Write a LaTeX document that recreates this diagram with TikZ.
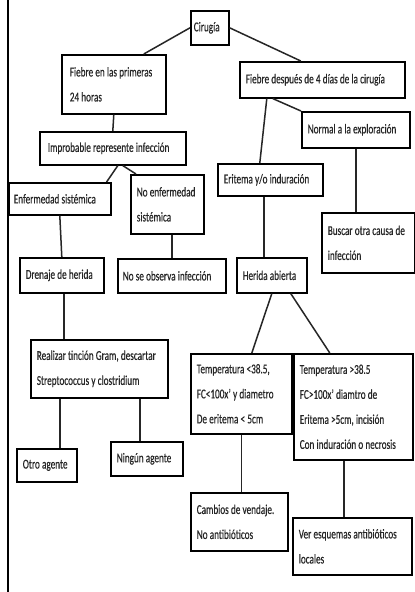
\documentclass[tikz,border=0pt]{standalone}
\usepackage{fontspec}
\setmainfont{Carlito}[FakeStretch=0.68, FakeBold=0.4]
\usetikzlibrary{shadows}
\newcommand{\tightsp}{\spaceskip=2.2pt plus 0.5pt minus 0.2pt\relax}
\begin{document}
\begin{tikzpicture}[x=1pt,y=-1pt,
  box/.style={draw=black, line width=1.6pt, fill=white, anchor=north west,
    inner sep=0pt, align=left, font=\fontsize{13.5}{25}\selectfont, text=black!85,
    execute at begin node=\tightsp,
    general shadow={fill=black, shadow xshift=0.8pt, shadow yshift=-1.2pt}},
  link/.style={line width=1.5pt, draw=black!85}]
\useasboundingbox (0,0) rectangle (415,592);
\fill[white] (0,0) rectangle (415,592);
\draw[line width=2.4pt] (7.8,0) -- (7.8,592);
% boxes
\node[box, minimum width=38pt, minimum height=34pt, text width=34pt] (cir) at (190,10) {\hspace*{1pt}Cirugía};
\node[box, minimum width=104pt, minimum height=59pt, text width=96pt] (f1) at (61,54) {\hspace*{4pt}Fiebre en las primeras\\\hspace*{4pt}24 horas};
\node[box, minimum width=146pt, minimum height=33pt, text width=140pt] (imp) at (39,131) {\hspace*{5pt}Improbable represente infección};
\node[box, minimum width=102pt, minimum height=32pt, text width=98pt] (enf) at (8,182) {\hspace*{3pt}Enfermedad sistémica};
\node[box, minimum width=73pt, minimum height=59pt, text width=69pt] (noenf) at (130,174) {\hspace*{4pt}No enfermedad\\\hspace*{4pt}sistémica};
\node[box, minimum width=84pt, minimum height=35pt, text width=80pt] (dren) at (19,257) {\hspace*{4pt}Drenaje de herida};
\node[box, minimum width=108pt, minimum height=34pt, text width=104pt] (noobs) at (117,258) {\hspace*{3pt}No se observa infección};
\node[box, minimum width=137pt, minimum height=58pt, text width=133pt] (real) at (30,339) {\hspace*{4pt}Realizar tinción Gram, descartar\\\hspace*{4pt}Streptococcus y clostridium};
\node[box, minimum width=60pt, minimum height=33pt, text width=56pt] (otro) at (16,448) {\hspace*{4pt}Otro agente};
\node[box, minimum width=72pt, minimum height=34pt, text width=68pt] (ning) at (110,441) {\hspace*{4pt}Ningún agente};
\node[box, minimum width=165pt, minimum height=36pt, text width=161pt] (f2) at (239,61) {\hspace*{4pt}Fiebre después de 4 días de la cirugía};
\node[box, minimum width=108pt, minimum height=36pt, text width=104pt] (norm) at (301,111) {\hspace*{4pt}Normal a la exploración};
\node[box, minimum width=105pt, minimum height=32pt, text width=101pt] (eri) at (217,163) {\hspace*{4pt}Eritema y/o induración};
\node[box, minimum width=93pt, minimum height=60pt, text width=89pt] (busc) at (321,212) {\hspace*{4pt}Buscar otra causa de\\\hspace*{4pt}infección};
\node[box, minimum width=70pt, minimum height=35pt, text width=66pt] (her) at (236,257) {\hspace*{4pt}Herida abierta};
\node[box, minimum width=101pt, minimum height=80pt, text width=97pt] (tlt) at (190,353) {\hspace*{4pt}Temperatura <38.5,\\\hspace*{4pt}FC<100x' y diametro\\\hspace*{4pt}De eritema < 5cm};
\node[box, minimum width=119pt, minimum height=106pt, text width=115pt] (tgt) at (293,353) {\hspace*{4pt}Temperatura >38.5\\\hspace*{4pt}FC>100x' diamtro de\\\hspace*{4pt}Eritema >5cm, incisión\\\hspace*{4pt}Con induración o necrosis};
\node[box, minimum width=97pt, minimum height=58pt, text width=93pt] (camb) at (190,492) {\hspace*{4pt}Cambios de vendaje.\\\hspace*{4pt}No antibióticos};
\node[box, minimum width=119pt, minimum height=57pt, text width=115pt] (ver) at (292,517) {\hspace*{4pt}Ver esquemas antibióticos\\\hspace*{4pt}locales};
% connectors
\coordinate (o1) at ([xshift=13pt]otro.north);
\coordinate (n1) at ([xshift=-7pt]ning.north);
\coordinate (e1) at ([xshift=-8pt]her.north);
\coordinate (v1) at ([xshift=-9.5pt]tgt.south);
\draw[link] (cir.west) -- ([xshift=30pt]f1.north);
\draw[link] (cir.east) -- ([xshift=-21.5pt]f2.north);
\draw[link] (f1.south) -- (imp.north);
\draw[link] ([xshift=5pt]imp.south) -- ([xshift=-5pt]enf.north east);
\draw[link] ([xshift=10pt]imp.south) -- ([xshift=6pt]noenf.north west);
\draw[link] (enf.south) -- (dren.north);
\draw[link] (noobs.north |- noenf.south) -- (noobs.north);
\draw[link] ([xshift=2pt]dren.south) -- ([xshift=2pt]dren.south |- real.north);
\draw[link] (real.south -| o1) -- (o1);
\draw[link] (real.south -| n1) -- (n1);
\draw[link] ([xshift=-55.5pt]f2.south) -- ([xshift=-10.5pt]eri.north);
\draw[link] ([xshift=-49.5pt]f2.south) -- (norm.north west);
\draw[link] (norm.south) -- (norm.south |- busc.north);
\draw[link] (eri.south -| e1) -- (e1);
\draw[link] (her.south) -- ([xshift=10.5pt]tlt.north);
\draw[link] ([xshift=19pt]her.south) -- ([xshift=-23.5pt]tgt.north);
\draw[link] (tlt.south) -- (tlt.south |- camb.north);
\draw[link] (v1) -- (v1 |- ver.north);
\end{tikzpicture}
\end{document}
